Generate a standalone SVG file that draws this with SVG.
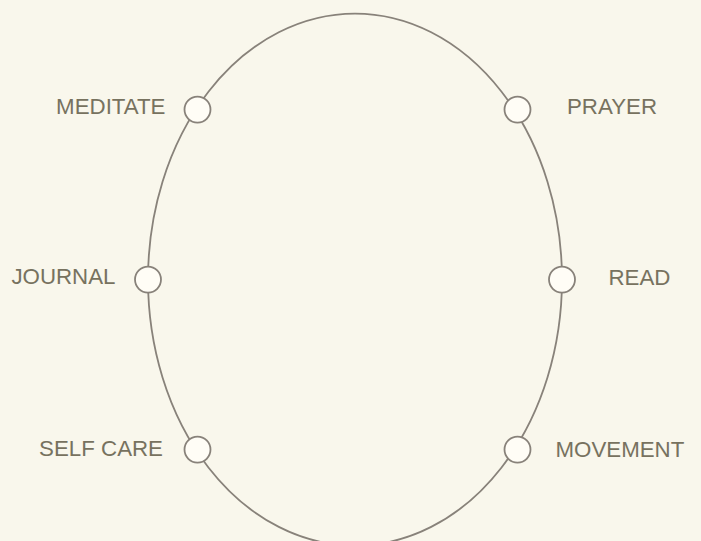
<svg xmlns="http://www.w3.org/2000/svg" width="701" height="541" viewBox="0 0 701 541">
  <style>
    .ring { fill: none; stroke: #88827a; stroke-width: 1.8; }
    .dot { fill: #fffdf6; stroke: #88827a; stroke-width: 1.8; }
    .label { font-family: "Liberation Sans", Arial, sans-serif; font-size: 22.3px; fill: #77725f; }
    .left { text-anchor: end; }
    .right { text-anchor: start; }
  </style>
  <rect width="701" height="541" fill="#f9f7ec"/>

  <g id="connectors">
    <ellipse class="ring" cx="355" cy="279.6" rx="207" ry="266"/>
  </g>

  <g id="node-meditate">
    <circle class="dot" cx="197.5" cy="109.6" r="13"/>
    <text class="label left" x="165.5" y="114.3">MEDITATE</text>
  </g>

  <g id="node-prayer">
    <circle class="dot" cx="517.5" cy="109.6" r="13"/>
    <text class="label right" x="567" y="114.3">PRAYER</text>
  </g>

  <g id="node-journal">
    <circle class="dot" cx="148" cy="279.6" r="13"/>
    <text class="label left" x="115.5" y="284">JOURNAL</text>
  </g>

  <g id="node-read">
    <circle class="dot" cx="562" cy="279.6" r="13"/>
    <text class="label right" x="608.5" y="284.5">READ</text>
  </g>

  <g id="node-self-care">
    <circle class="dot" cx="197.5" cy="449.6" r="13"/>
    <text class="label left" x="163" y="456">SELF CARE</text>
  </g>

  <g id="node-movement">
    <circle class="dot" cx="517.5" cy="449.6" r="13"/>
    <text class="label right" x="555.5" y="457">MOVEMENT</text>
  </g>
</svg>
